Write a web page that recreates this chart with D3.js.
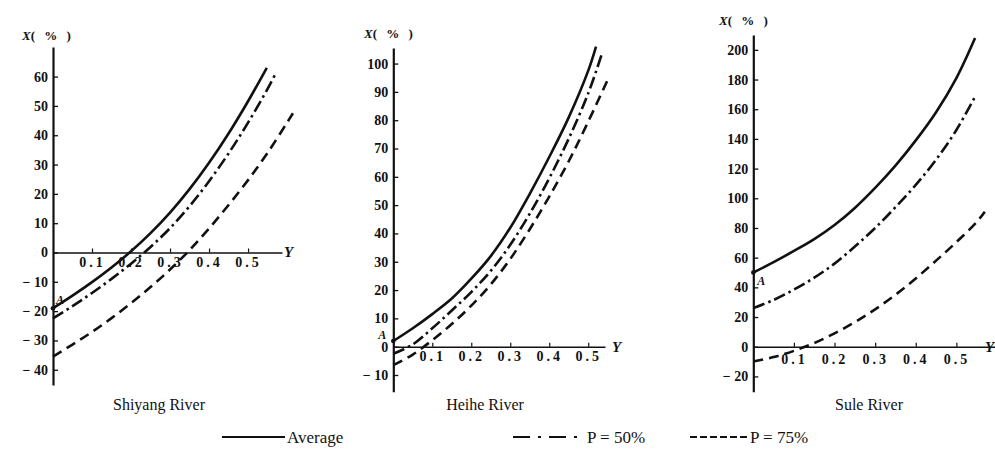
<!DOCTYPE html>
<html>
<head>
<meta charset="utf-8">
<script src="https://d3js.org/d3.v7.min.js"></script>
<style>
  body { margin: 0; background: #fff; }
</style>
</head>
<body>
<script>
var w = 995, h = 465;
var serif = "'Liberation Serif', 'Times New Roman', serif";

var riverNames = ["Shiyang River", "Heihe River", "Sule River"];
var legendLabels = ["Average", "P = 50%", "P = 75%"];

// Shiyang River
var shiyangTicks = [-40, -30, -20, -10, 0, 10, 20, 30, 40, 50, 60];
var shiyangAvgX = [0, 0.05, 0.1, 0.15, 0.2, 0.25, 0.3, 0.35, 0.4, 0.45, 0.5, 0.548];
var shiyangAvgY = [-19, -14.7, -10.1, -5.1, 0.4, 6.6, 13.6, 21.6, 30.6, 40.6, 51.6, 63];
var shiyangP50X = [0, 0.05, 0.1, 0.15, 0.2, 0.25, 0.3, 0.35, 0.4, 0.45, 0.5, 0.55, 0.569];
var shiyangP50Y = [-22.5, -18.3, -13.8, -9, -3.8, 1.9, 8.3, 15.8, 24.3, 33.8, 44.3, 55.8, 60.6];
var shiyangP75X = [0, 0.05, 0.1, 0.15, 0.2, 0.25, 0.3, 0.35, 0.4, 0.45, 0.5, 0.55, 0.6, 0.615];
var shiyangP75Y = [-35.5, -31.4, -27.1, -22.4, -17.3, -11.8, -5.8, 0.8, 8.2, 16.2, 24.7, 34, 44.3, 47.5];

// Heihe River
var heiheTicks = [-10, 0, 10, 20, 30, 40, 50, 60, 70, 80, 90, 100];
var heiheAvgX = [0, 0.05, 0.1, 0.15, 0.2, 0.25, 0.3, 0.35, 0.4, 0.45, 0.5, 0.52];
var heiheAvgY = [2, 6.5, 11.5, 17, 24, 32, 42, 54, 67, 81, 97.5, 106];
var heiheP50X = [0, 0.05, 0.1, 0.15, 0.2, 0.25, 0.3, 0.35, 0.4, 0.45, 0.5, 0.534];
var heiheP50Y = [-2.5, 0.8, 6.5, 12.8, 19.3, 26.8, 36, 47, 59.5, 73.5, 89.5, 103];
var heiheP75X = [0, 0.05, 0.1, 0.15, 0.2, 0.25, 0.3, 0.35, 0.4, 0.45, 0.5, 0.554];
var heiheP75Y = [-6.5, -2.8, 2.3, 8, 14.5, 22, 31, 41.5, 53, 65.5, 79.5, 95.5];

// Sule River
var suleTicks = [-20, 0, 20, 40, 60, 80, 100, 120, 140, 160, 180, 200];
var suleAvgX = [0, 0.05, 0.1, 0.15, 0.2, 0.25, 0.3, 0.35, 0.4, 0.45, 0.5, 0.546];
var suleAvgY = [50, 57, 64.5, 72.5, 82, 93.5, 107, 122, 139, 158, 181, 208];
var suleP50X = [0, 0.05, 0.1, 0.15, 0.2, 0.25, 0.3, 0.35, 0.4, 0.45, 0.5, 0.549];
var suleP50Y = [26, 31.5, 38.5, 46.5, 56, 67.5, 80, 94, 109, 126, 146, 170];
var suleP75X = [0, 0.05, 0.1, 0.15, 0.2, 0.25, 0.3, 0.35, 0.4, 0.45, 0.5, 0.55, 0.57];
var suleP75Y = [-10, -7, -2.8, 2.5, 9, 16.5, 25.2, 35, 46, 58, 70.5, 84, 91];

var xTicks = [0.1, 0.2, 0.3, 0.4, 0.5];

function pts(xs, ys) { return xs.map(function (x, i) { return [x, ys[i]]; }); }

var dashes = [null, "12,4,2.5,4", "10,6"];

var panels = [
  { name: riverNames[0], xr: [53, 282], xd: [0, 0.587], yr: [385, 47], yd: [-45.2, 70.1], ticks: shiyangTicks,
    series: [pts(shiyangAvgX, shiyangAvgY), pts(shiyangP50X, shiyangP50Y), pts(shiyangP75X, shiyangP75Y)],
    titleX: 159, labX: 22, labY: 40, yLabX: 284, aDx: 3, aDy: -4, labPad: 5 },
  { name: riverNames[1], xr: [393.3, 605], xd: [0, 0.543], yr: [391.7, 48], yd: [-15.9, 105.5], ticks: heiheTicks,
    series: [pts(heiheAvgX, heiheAvgY), pts(heiheP50X, heiheP50Y), pts(heiheP75X, heiheP75Y)],
    titleX: 485, labX: 364, labY: 38, yLabX: 612, aDx: -15, aDy: -2.5, labPad: 4 },
  { name: riverNames[2], xr: [753.3, 997], xd: [0, 0.6], yr: [391.7, 35], yd: [-30.3, 210], ticks: suleTicks,
    series: [pts(suleAvgX, suleAvgY), pts(suleP50X, suleP50Y), pts(suleP75X, suleP75Y)],
    titleX: 869, labX: 719, labY: 25, yLabX: 985, aDx: 4, aDy: 12, labPad: 7 }
];

var svg = d3.select("body").append("svg")
  .attr("width", w)
  .attr("height", h);

panels.forEach(function (p) {
  var x = d3.scaleLinear().domain(p.xd).range(p.xr);
  var y = d3.scaleLinear().domain(p.yd).range(p.yr);
  var g = svg.append("g");

  // y axis, ticks pointing inward
  var ya = g.append("g")
    .attr("transform", "translate(" + x(0) + ",0)")
    .call(d3.axisLeft(y).tickValues(p.ticks).tickSizeInner(-5).tickSizeOuter(0).tickPadding(5)
      .tickFormat(function (d) { return d < 0 ? "\u2212 " + (-d) : d; }));
  ya.select(".domain").attr("stroke", "#111").attr("stroke-width", 2.2);
  ya.selectAll(".tick line").attr("stroke", "#111").attr("stroke-width", 1.3);
  ya.selectAll("text").attr("font-size", 14).attr("font-weight", "bold").attr("fill", "#111")
    .style("font-family", serif);

  // x axis along zero
  var xa = g.append("g")
    .attr("transform", "translate(0," + y(0) + ")")
    .call(d3.axisBottom(x).tickValues(xTicks).tickSizeInner(-4).tickSizeOuter(0).tickPadding(p.labPad)
      .tickFormat(function (d) { return d.toFixed(1); }));
  xa.select(".domain").attr("stroke", "#111").attr("stroke-width", 1.6);
  xa.selectAll(".tick line").attr("stroke", "#111").attr("stroke-width", 1.2);
  xa.selectAll("text").attr("font-size", 14).attr("font-weight", "bold")
    .attr("letter-spacing", "3px").attr("fill", "#111")
    .style("font-family", serif);

  // curves
  var line = d3.line().x(function (d) { return x(d[0]); }).y(function (d) { return y(d[1]); })
    .curve(d3.curveCatmullRom.alpha(0.5));
  p.series.forEach(function (s, i) {
    g.append("path")
      .attr("d", line(s))
      .attr("fill", "none")
      .attr("stroke", "#111")
      .attr("stroke-width", 2.6)
      .attr("stroke-dasharray", dashes[i]);
  });

  // point A
  var a = p.series[0][0];
  g.append("circle").attr("cx", x(a[0])).attr("cy", y(a[1])).attr("r", 2.3).attr("fill", "#111");
  g.append("text").attr("x", x(a[0]) + p.aDx).attr("y", y(a[1]) + p.aDy)
    .style("font-family", serif).attr("fill", "#111")
    .attr("font-size", 12).attr("font-style", "italic").attr("font-weight", "bold").text("A");

  // axis labels
  var lab = g.append("text").attr("x", p.labX).attr("y", p.labY)
    .style("font-family", serif).attr("fill", "#111")
    .attr("font-size", 13).attr("font-weight", "bold");
  lab.append("tspan").attr("font-style", "italic").text("X");
  lab.append("tspan").attr("letter-spacing", "3px").text("( % )");

  g.append("text").attr("x", p.yLabX).attr("y", y(0) + 5)
    .style("font-family", serif).attr("fill", "#111")
    .attr("font-size", 15).attr("font-style", "italic").attr("font-weight", "bold").text("Y");

  g.append("text").attr("x", p.titleX).attr("y", 410)
    .style("font-family", serif).attr("fill", "#111")
    .attr("text-anchor", "middle").attr("font-size", 16).text(p.name);
});

// legend
var legendX = [[222, 285], [513, 585], [690, 748]];
var legendDash = [null, "17,8,3,8", "7,3"];
legendLabels.forEach(function (lbl, i) {
  svg.append("line")
    .attr("x1", legendX[i][0]).attr("x2", legendX[i][1])
    .attr("y1", 437).attr("y2", 437)
    .attr("stroke", "#111").attr("stroke-width", 2)
    .attr("stroke-dasharray", legendDash[i]);
  svg.append("text")
    .attr("x", legendX[i][1] + 2).attr("y", 443)
    .style("font-family", serif).attr("fill", "#111")
    .attr("font-size", 17).text(lbl);
});
</script>
</body>
</html>
